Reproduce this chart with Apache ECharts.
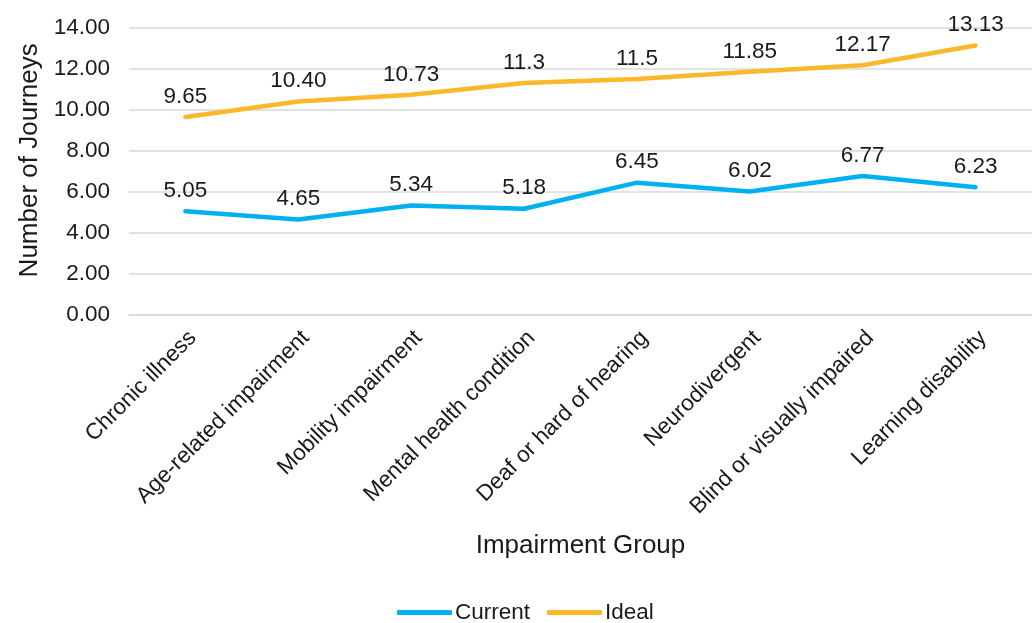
<!DOCTYPE html>
<html><head><meta charset="utf-8">
<script src="https://cdn.jsdelivr.net/npm/echarts@6/dist/echarts.min.js"></script>
<style>html,body{margin:0;padding:0;background:#fff}#c{width:1032px;height:623px}</style>
</head><body><div id="c"></div>
<script>
const categories = ["Chronic illness","Age-related impairment","Mobility impairment","Mental health condition","Deaf or hard of hearing","Neurodivergent","Blind or visually impaired","Learning disability"];
const currentValues = [5.05,4.65,5.34,5.18,6.45,6.02,6.77,6.23];
const currentLabels = ["5.05","4.65","5.34","5.18","6.45","6.02","6.77","6.23"];
const idealValues = [9.65,10.40,10.73,11.3,11.5,11.85,12.17,13.13];
const idealLabels = ["9.65","10.40","10.73","11.3","11.5","11.85","12.17","13.13"];
const yTicks = {min:0,max:14,interval:2};

const font = "Liberation Sans, Arial, sans-serif";
const txt = '#1a1a1a';
const chart = echarts.init(document.getElementById('c'));
function lbl(arr){return {show:true,position:'top',distance:8,fontSize:22.5,color:txt,fontFamily:font,formatter:function(p){return arr[p.dataIndex];}};}
chart.setOption({
  animation:false,
  textStyle:{fontFamily:font},
  grid:{left:129,right:-3,top:27.7,height:287.3,containLabel:false},
  legend:{top:596,left:392,itemWidth:55,itemHeight:5,itemGap:17,icon:'roundRect',
    textStyle:{fontSize:22.5,color:txt,fontFamily:font,padding:[0,0,0,-2]},
    data:['Current','Ideal']},
  xAxis:{type:'category',data:categories,boundaryGap:true,
    axisLine:{lineStyle:{color:'#d9d9d9',width:1.5}},axisTick:{show:false},
    axisLabel:{rotate:45,fontSize:22.5,color:txt,fontFamily:font,margin:12,interval:0,
      formatter:function(v){return '{a|'+v+'}';},
      rich:{a:{fontSize:22.5,color:txt,fontFamily:font,padding:[21,0,0,0]}}},
    name:'Impairment Group',nameLocation:'middle',nameGap:218,
    nameTextStyle:{fontSize:26,color:txt,fontFamily:font}},
  yAxis:{type:'value',min:yTicks.min,max:yTicks.max,interval:yTicks.interval,
    axisLine:{show:false},axisTick:{show:false},
    splitLine:{lineStyle:{color:'#d9d9d9',width:1.5}},
    axisLabel:{fontSize:22.5,color:txt,fontFamily:font,margin:19,formatter:v=>v.toFixed(2)},
    name:'Number of Journeys',nameLocation:'middle',nameGap:86,
    nameTextStyle:{fontSize:26,color:txt,fontFamily:font,padding:[0,0,0,22]}},
  series:[
    {name:'Current',type:'line',data:currentValues,symbol:'circle',symbolSize:2,showSymbol:true,
     itemStyle:{color:'#00B0F0'},color:'#00B0F0',
     lineStyle:{width:4.5,color:'#00B0F0',cap:'round'},label:lbl(currentLabels)},
    {name:'Ideal',type:'line',data:idealValues,symbol:'circle',symbolSize:2,showSymbol:true,
     itemStyle:{color:'#FBB829'},color:'#FBB829',
     lineStyle:{width:4.5,color:'#FBB829',cap:'round'},label:lbl(idealLabels)}
  ]
});
</script></body></html>
